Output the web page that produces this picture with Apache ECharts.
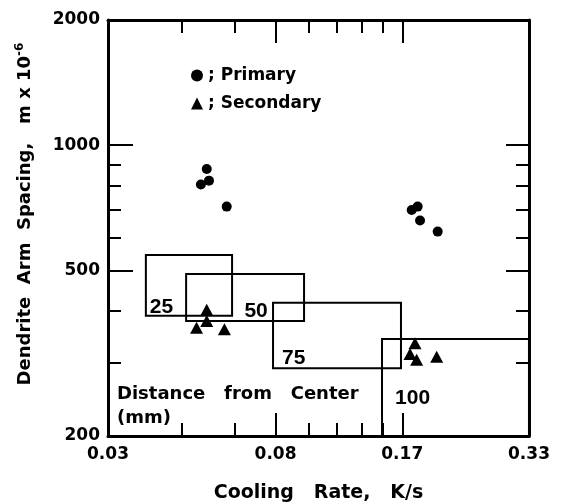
<!DOCTYPE html>
<html>
<head>
<meta charset="utf-8">
<title>Dendrite arm spacing vs cooling rate</title>
<script src="https://cdn.jsdelivr.net/npm/echarts@6/dist/echarts.min.js"></script>
<style>
    html, body { margin: 0; padding: 0; background: #fff; }
    #chart { width: 567px; height: 504px; }
</style>
</head>
<body>
<div id="chart"></div>
<script>
    // cooling rate axis runs 2..20 K/min, printed in K/s
    var xLabelKmin = [2, 5, 10, 20];
    var xMinorKmin = [3, 4, 6, 7, 8, 9];
    var xMajorKmin = [5, 10];
    var yLabels = [200, 500, 1000, 2000];
    var yMinor = [300, 400, 600, 700, 800, 900];
    var yMajor = [500, 1000];

    var primaryRate = [0.0572, 0.0554, 0.0579, 0.0638, 0.1755, 0.1813, 0.1837, 0.2023];
    var primarySpacing = [877, 805, 822, 712, 699, 712, 659, 620];
    var secondaryRate = [0.0572, 0.0572, 0.0541, 0.0630, 0.1787, 0.1739, 0.1803, 0.2012];
    var secondarySpacing = [402, 378, 364, 361, 334, 315, 305, 310];

    // distance from center boxes (mm)
    var boxNames = ['25', '50', '75', '100'];
    var boxRate = [[0.0410, 0.0657], [0.0511, 0.0974], [0.0822, 0.1655], [0.1492, 0.3333]];
    var boxSpacing = [[389, 545], [378, 490], [291, 418], [200, 342]];

    var FONT = 'DejaVu Sans';
    var toKs = function (v) { return v / 60; };
    // tiny widening so the end labels survive rounding
    var xMin = toKs(2) * 0.9999, xMax = toKs(20) * 1.0001;

    function pairs(xs, ys) {
        return xs.map(function (x, i) { return [x, ys[i]]; });
    }

    var boxLabelPos = [
        {position: 'insideBottomLeft', offset: [0, 6]},
        {position: 'insideBottom', offset: [11, 5]},
        {position: 'insideBottomLeft', offset: [5, 4]},
        {position: 'insideLeft', offset: [9, 11]}
    ];
    var boxData = boxNames.map(function (n, i) {
        return [
            {
                name: n,
                coord: [boxRate[i][0], boxSpacing[i][1]],
                label: boxLabelPos[i]
            },
            {coord: [boxRate[i][1], boxSpacing[i][0]]}
        ];
    });

    var labelStyle = {color: '#000', fontFamily: FONT, fontWeight: 'bold', fontSize: 17};

    function xAxisDef(pos, ticks, len, withLabels) {
        return {
            type: 'log', logBase: 10, position: pos, min: xMin, max: xMax,
            axisLine: {show: withLabels !== null, lineStyle: {color: '#000', width: 3}},
            axisTick: {show: true, inside: true, length: len, customValues: ticks,
                lineStyle: {color: '#000', width: 2}},
            axisLabel: withLabels ? Object.assign({
                customValues: xLabelKmin.map(toKs),
                margin: 10,
                formatter: function (v) { return v.toFixed(2); }
            }, labelStyle) : {show: false},
            splitLine: {show: false},
            minorTick: {show: false}
        };
    }

    function yAxisDef(pos, ticks, len, withLabels) {
        return {
            type: 'log', logBase: 10, position: pos, min: 200, max: 2000,
            axisLine: {show: withLabels !== null, lineStyle: {color: '#000', width: 3}},
            axisTick: {show: true, inside: true, length: len, customValues: ticks,
                lineStyle: {color: '#000', width: 2}},
            axisLabel: withLabels ? Object.assign({
                customValues: yLabels,
                margin: 8,
                formatter: function (v) { return String(Math.round(v)); }
            }, labelStyle) : {show: false},
            splitLine: {show: false},
            minorTick: {show: false}
        };
    }

    var xAxes = [
        xAxisDef('bottom', xMinorKmin.map(toKs), 13, true),
        xAxisDef('bottom', xMajorKmin.map(toKs), 23, null),
        xAxisDef('top', xMinorKmin.map(toKs), 13, false),
        xAxisDef('top', xMajorKmin.map(toKs), 23, null)
    ];
    xAxes[0].name = 'Cooling   Rate,   K/s';
    xAxes[0].nameLocation = 'middle';
    xAxes[0].nameGap = 48;
    xAxes[0].nameTextStyle = {color: '#000', fontFamily: FONT, fontWeight: 'bold', fontSize: 19};

    var yAxes = [
        yAxisDef('left', yMinor, 13, true),
        yAxisDef('left', yMajor, 25, null),
        yAxisDef('right', yMinor, 13, false),
        yAxisDef('right', yMajor, 23, null)
    ];
    yAxes[0].name = 'Dendrite  Arm  Spacing,   m x 10{sup|-6}';
    yAxes[0].nameLocation = 'middle';
    yAxes[0].nameGap = 72;
    yAxes[0].nameTextStyle = {
        color: '#000', fontFamily: FONT, fontWeight: 'bold', fontSize: 18,
        padding: [0, 0, 0, 28],
        rich: {sup: {fontFamily: FONT, fontWeight: 'bold', fontSize: 12, verticalAlign: 'top', padding: [0, 0, 10, 0]}}
    };

    var chart = echarts.init(document.getElementById('chart'));
    chart.setOption({
        backgroundColor: '#fff',
        animation: false,
        grid: {left: 108, right: 38, top: 20, bottom: 68, outerBoundsMode: 'none'},
        xAxis: xAxes,
        yAxis: yAxes,
        legend: {
            orient: 'vertical', left: 186, top: 62,
            itemWidth: 12, itemHeight: 12, itemGap: 11,
            textStyle: {color: '#000', fontFamily: FONT, fontWeight: 'bold', fontSize: 17},
            formatter: function (n) { return '; ' + n; },
            data: [{name: 'Primary', icon: 'circle'}, {name: 'Secondary', icon: 'triangle'}]
        },
        graphic: [
            {type: 'text', left: 117, top: 385,
                style: {text: 'Distance   from   Center', fill: '#000', font: 'bold 18px "DejaVu Sans"'}},
            {type: 'text', left: 117, top: 409,
                style: {text: '(mm)', fill: '#000', font: 'bold 18px "DejaVu Sans"'}}
        ],
        series: [
            {
                name: 'Primary', type: 'scatter', symbol: 'circle', symbolSize: 10,
                itemStyle: {color: '#000', opacity: 1},
                data: pairs(primaryRate, primarySpacing),
                markArea: {
                    silent: true,
                    itemStyle: {color: 'rgba(0,0,0,0)', borderColor: '#000', borderWidth: 2},
                    label: {color: '#000', fontFamily: 'Liberation Sans', fontWeight: 'bold', fontSize: 21},
                    data: boxData
                }
            },
            {
                name: 'Secondary', type: 'scatter', symbol: 'triangle', symbolSize: [13, 12],
                itemStyle: {color: '#000', opacity: 1},
                data: pairs(secondaryRate, secondarySpacing)
            }
        ]
    });
</script>
</body>
</html>
